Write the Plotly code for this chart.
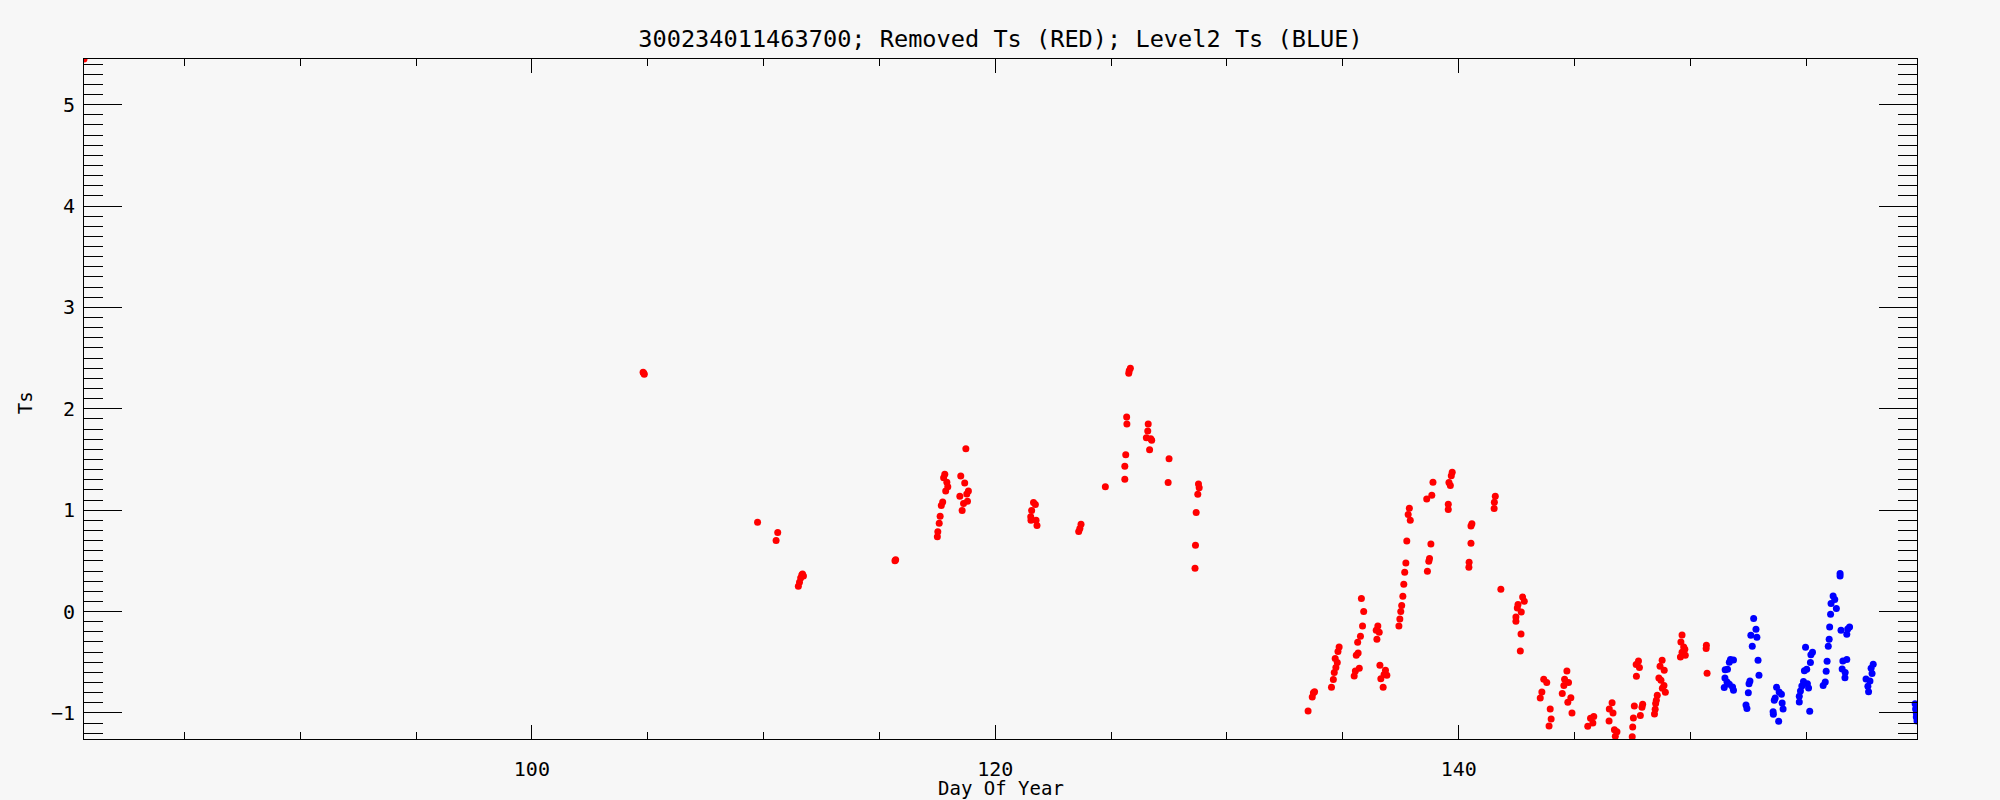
import plotly.graph_objects as go

# Removed (red) series: day of year, Ts
red_day = [80.67,
           104.80, 104.85, 104.83, 109.74, 110.61, 110.54,
           111.50, 111.55, 111.60, 111.65, 111.72, 111.68, 115.67, 115.70,
           117.82, 117.77, 117.91, 117.95, 117.86, 117.73, 117.67, 117.62, 117.58, 117.52, 117.50,
           118.73, 118.51, 118.68, 118.84, 118.77, 118.47, 118.80, 118.63, 118.57,
           121.65, 121.73, 121.57, 121.53, 121.76, 121.54, 121.80,
           123.60, 123.65, 123.70, 124.75,
           125.76, 125.78, 125.83, 125.67, 125.68, 125.63, 125.59, 125.59,
           126.60, 126.58, 126.52, 126.71, 126.75, 126.66, 127.50, 127.46,
           128.77, 128.80, 128.74, 128.67, 128.64, 128.62,
           133.50, 133.73, 133.68, 133.78,
           134.84, 134.79, 134.67, 134.76, 134.70, 134.63, 134.59, 134.51,
           135.80, 135.90, 135.85, 135.76, 135.64, 135.66, 135.58, 135.71, 135.54, 135.49,
           136.51, 136.44, 136.57, 136.47, 136.60, 136.84, 136.78, 136.90, 136.64, 136.74,
           137.87, 137.82, 137.91, 137.76, 137.72, 137.67, 137.63, 137.59, 137.54, 137.50, 137.46, 137.42,
           138.89, 138.84, 138.62, 138.80, 138.74, 138.71, 138.65,
           139.72, 139.68, 139.58, 139.64, 139.55, 139.55,
           140.57, 140.53, 140.53, 140.45, 140.44,
           141.58, 141.54, 141.53, 141.82,
           142.76, 142.83, 142.56, 142.53, 142.70, 142.47, 142.47, 142.69, 142.66,
           143.67, 143.80, 143.59, 143.52, 143.95, 143.99, 143.90,
           144.67, 144.57, 144.74, 144.54, 144.47, 144.84, 144.71, 144.89,
           145.83, 145.69, 145.79, 145.57,
           146.62, 146.50, 146.66, 146.49, 146.72, 146.83, 146.76,
           147.76, 147.66, 147.80, 147.67, 147.58, 147.94, 147.91, 147.84, 147.54, 147.51, 147.49,
           148.78, 148.69, 148.87, 148.64, 148.73, 148.86, 148.79, 148.92, 148.57, 148.53, 148.50, 148.48, 148.45,
           149.64, 149.59, 149.71, 149.76, 149.64, 149.78, 149.57,
           150.69, 150.68, 150.72]
red_ts = [5.45,
          2.36, 2.34, 2.35, 0.88, 0.78, 0.70,
          0.25, 0.29, 0.33, 0.36, 0.35, 0.37, 0.50, 0.51,
          1.355, 1.32, 1.276, 1.23, 1.19, 1.08, 1.046, 0.94, 0.87, 0.786, 0.737,
          1.605, 1.336, 1.267, 1.188, 1.16, 1.138, 1.089, 1.066, 0.997,
          1.076, 1.056, 0.997, 0.934, 0.90, 0.90, 0.849,
          0.79, 0.82, 0.86, 1.23,
          2.35, 2.375, 2.40, 1.918, 1.849, 1.546, 1.434, 1.306,
          1.849, 1.78, 1.714, 1.704, 1.69, 1.595, 1.507, 1.273,
          1.257, 1.22, 1.158, 0.977, 0.654, 0.427,
          -0.981, -0.80, -0.843, -0.79,
          -0.349, -0.395, -0.464, -0.503, -0.553, -0.602, -0.671, -0.747,
          0.128, 0.0, -0.142, -0.244, -0.303, -0.408, -0.43, -0.56, -0.586, -0.635,
          -0.142, -0.185, -0.204, -0.273, -0.53, -0.579, -0.622, -0.629, -0.662, -0.747,
          1.02, 0.957, 0.901, 0.697, 0.48, 0.388, 0.27, 0.151, 0.059, 0.0, -0.073, -0.142,
          1.276, 1.148, 1.109, 0.667, 0.523, 0.497, 0.398,
          1.375, 1.339, 1.273, 1.244, 1.059, 1.007,
          0.865, 0.845, 0.674, 0.487, 0.437,
          1.138, 1.079, 1.017, 0.22,
          0.144, 0.102, 0.069, 0.036, -0.004, -0.053, -0.096, -0.221, -0.389,
          -0.668, -0.70, -0.794, -0.853, -0.961, -1.06, -1.129,
          -0.586, -0.668, -0.70, -0.73, -0.807, -0.85, -0.895, -1.0,
          -1.034, -1.053, -1.10, -1.132,
          -0.899, -0.961, -1.0, -1.08, -1.165, -1.185, -1.231,
          -0.488, -0.523, -0.553, -0.639, -0.932, -0.915, -0.945, -1.024, -1.05, -1.139, -1.234,
          -0.48, -0.54, -0.579, -0.655, -0.678, -0.73, -0.757, -0.797, -0.826, -0.876, -0.908, -0.964, -1.01,
          -0.231, -0.30, -0.349, -0.372, -0.402, -0.431, -0.448,
          -0.333, -0.365, -0.609]

# Level2 (blue) series
blue_day = [151.73, 151.86, 151.68, 151.60, 151.50, 151.49, 151.58, 151.68, 151.46, 151.82, 151.86,
            152.73, 152.83, 152.61, 152.87, 152.67, 152.92, 152.96, 152.57, 152.53, 152.50, 152.40, 152.44,
            153.72, 153.83, 153.93, 153.66, 153.62, 153.96, 154.00, 153.57, 153.58, 153.81,
            154.97, 155.27, 155.20, 155.18, 155.02, 154.92, 154.88, 155.05, 154.81, 155.10, 154.75, 154.70, 154.70, 155.15,
            156.16, 156.23, 156.07, 156.30, 156.05, 156.01, 155.99, 155.95, 155.90, 155.86, 155.82, 155.73,
            156.46, 156.46,
            156.87, 156.79, 156.50, 156.75, 156.75, 156.58, 156.55, 156.68, 156.67,
            157.89, 157.80, 157.84, 157.58, 157.75, 157.66, 157.69,
            159.70, 159.72, 159.75, 159.75, 159.78]
blue_ts = [-0.474, -0.478, -0.50, -0.57, -0.573, -0.655, -0.695, -0.718, -0.75, -0.744, -0.777,
           -0.069, -0.175, -0.234, -0.254, -0.343, -0.481, -0.629, -0.685, -0.711, -0.80, -0.922, -0.955,
           -0.747, -0.794, -0.816, -0.853, -0.876, -0.902, -0.961, -0.987, -1.014, -1.083,
           -0.352, -0.402, -0.425, -0.503, -0.57, -0.583, -0.691, -0.711, -0.734, -0.754, -0.784, -0.836, -0.892, -0.984,
           0.154, 0.118, 0.079, 0.03, -0.027, -0.152, -0.273, -0.343, -0.491, -0.589, -0.695, -0.73,
           0.375, 0.351,
           -0.152, -0.172, -0.185, -0.224, -0.474, -0.488, -0.567, -0.602, -0.652,
           -0.52, -0.56, -0.612, -0.665, -0.685, -0.737, -0.79,
           -0.91, -0.96, -1.00, -1.04, -1.08]

x_range = [80.67, 159.78]
y_range = [-1.257, 5.45]

title_text = "300234011463700; Removed Ts (RED); Level2 Ts (BLUE)"
x_title = "Day Of Year"
y_title = "Ts"

FONT = "DejaVu Sans Mono"
BG = "#f7f7f7"

fig = go.Figure()
fig.add_trace(go.Scatter(x=red_day, y=red_ts, mode="markers",
                         marker=dict(color="#ff0000", size=7, line=dict(width=0)),
                         showlegend=False))
fig.add_trace(go.Scatter(x=blue_day, y=blue_ts, mode="markers",
                         marker=dict(color="#0000ff", size=7, line=dict(width=0)),
                         showlegend=False))

fig.update_layout(
    width=2000, height=800,
    margin=dict(l=84, r=83, t=59, b=61, pad=0),
    paper_bgcolor=BG, plot_bgcolor=BG,
    font=dict(family=FONT, color="black", size=20),
    title=dict(text=title_text, x=0.5, xanchor="center", xref="paper",
               y=1 - 39 / 800, yref="container", yanchor="middle",
               font=dict(family=FONT, size=23.6, color="black")),
    xaxis=dict(range=x_range, showgrid=False, zeroline=False,
               showline=True, linecolor="black", linewidth=1, mirror="ticks",
               ticks="inside", tickcolor="black", ticklen=14, tickwidth=1,
               tick0=0, dtick=20, ticklabelstandoff=12,
               tickfont=dict(family=FONT, size=20, color="black"),
               minor=dict(ticks="inside", ticklen=7, tickcolor="black", tickwidth=1, dtick=5, tick0=0, showgrid=False)),
    yaxis=dict(range=y_range, showgrid=False, zeroline=False,
               showline=True, linecolor="black", linewidth=1, mirror="ticks",
               ticks="inside", tickcolor="black", ticklen=38, tickwidth=1,
               tick0=0, dtick=1, ticklabelstandoff=4,
               tickfont=dict(family=FONT, size=20, color="black"),
               minor=dict(ticks="inside", ticklen=19, tickcolor="black", tickwidth=1, dtick=0.1, tick0=0, showgrid=False)),
    annotations=[
        dict(text=x_title, x=0.5, xref="paper", y=-(788 - 739) / 680, yref="paper",
             xanchor="center", yanchor="middle", showarrow=False,
             font=dict(family=FONT, size=19, color="black")),
        dict(text=y_title, x=-(84.4 - 25.5) / 1832, xref="paper", y=0.494, yref="paper",
             xanchor="center", yanchor="middle", showarrow=False, textangle=-90,
             font=dict(family=FONT, size=19, color="black")),
    ],
)

fig.write_html("out.html", config={"displayModeBar": False},
               post_script="document.body.style.margin='0';document.body.style.padding='0';")
